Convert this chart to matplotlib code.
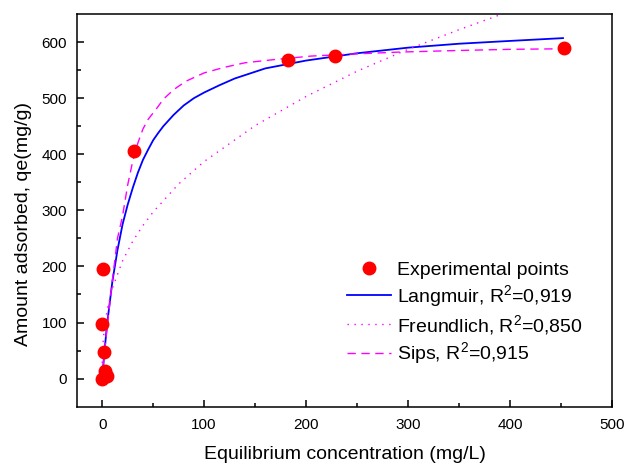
#!/usr/bin/env python
import matplotlib
matplotlib.use('Agg')
import matplotlib.pyplot as plt

rcparams = {}
rcparams['font.family'] = ['Liberation Sans', 'DejaVu Sans']
rcparams['mathtext.default'] = 'regular'
rcparams['axes.linewidth'] = 1.1
matplotlib.rcParams.update(rcparams)

# experimental points
conc = [0.0, 4.5, 2.5, 1.5, 0.0, 1.0, 31, 182, 228, 453]
qe = [0, 5, 13, 47, 97, 196, 406, 568, 576, 590]

# fitted curves
lang_c = [0, 2, 5, 10, 15, 20, 25, 30, 35, 40, 45, 50, 55, 60, 70, 80, 90, 100,
          115, 130, 160, 200, 250, 300, 350, 400, 452]
lang_q = [0, 44, 100, 173, 229, 275, 310, 340, 367, 390, 408, 425, 438, 450, 470, 487, 500, 510,
          523, 535, 553, 567, 580, 590, 597, 602, 607]

freu_c = [0.1, 0.5, 1, 2, 5, 10, 20, 30, 40, 50, 75, 100, 150, 200, 250, 300, 350, 400]
freu_q = [28, 52, 67, 87, 124, 161, 210, 245, 273, 297, 347, 387, 451, 503, 548, 587, 622, 655]

sips_c = [0, 2, 5, 10, 15, 20, 25, 30, 35, 40, 45, 54, 60, 70, 82, 100, 120, 140, 170, 205,
          250, 290, 350, 400, 452]
sips_q = [0, 40, 95, 175, 250, 290, 345, 388, 420, 445, 462, 483, 498, 515, 530, 545, 555, 563, 569, 575,
          579, 582, 585, 587, 588]

labels = ['Experimental points',
          'Langmuir, R$^2$=0,919',
          'Freundlich, R$^2$=0,850',
          'Sips, R$^2$=0,915']

fig = plt.figure(figsize=(6.26, 4.65), dpi=100)
ax = fig.add_axes([0.1225, 0.1254, 0.855, 0.8445])

ax.plot(conc, qe, 'o', color='#ff0000', ms=9, mec='#ff0000', label=labels[0], zorder=3)
ax.plot(lang_c, lang_q, '-', color='#0000ff', lw=1.3, label=labels[1])
ax.plot(freu_c, freu_q, ':', color='#ff00ff', lw=1.0, dashes=(1, 4), label=labels[2])
ax.plot(sips_c, sips_q, '--', color='#ff00ff', lw=1.0, dashes=(6, 4), label=labels[3])

ax.set_xlim(-25, 500)
ax.set_ylim(-50, 650)
ax.set_xticks([0, 100, 200, 300, 400, 500])
ax.set_yticks([0, 100, 200, 300, 400, 500, 600])
ax.set_xticks(range(50, 500, 100), minor=True)
ax.set_yticks(range(50, 650, 100), minor=True)
ax.tick_params(which='both', direction='in', top=False, right=False, labelsize=11)
ax.tick_params(which='major', length=5, width=1.1)
ax.tick_params(which='minor', length=3, width=1.1)
ax.tick_params(axis='x', pad=8)
ax.tick_params(axis='y', pad=7)

fig.text(0.551, 0.0123, 'Equilibrium concentration (mg/L)', fontsize=14,
         ha='center', va='baseline')
fig.text(0.037, 1 - 224 / 465, 'Amount adsorbed, qe(mg/g)', fontsize=14,
         rotation=90, ha='center', va='center')

ax.legend(loc='upper left', bbox_to_anchor=(0.554, 0.438), bbox_transform=fig.transFigure,
          frameon=False, fontsize=14, handlelength=2.28, handletextpad=0.3,
          labelspacing=0.2, borderaxespad=0, borderpad=0)

plt.savefig('out.png', dpi=100)
